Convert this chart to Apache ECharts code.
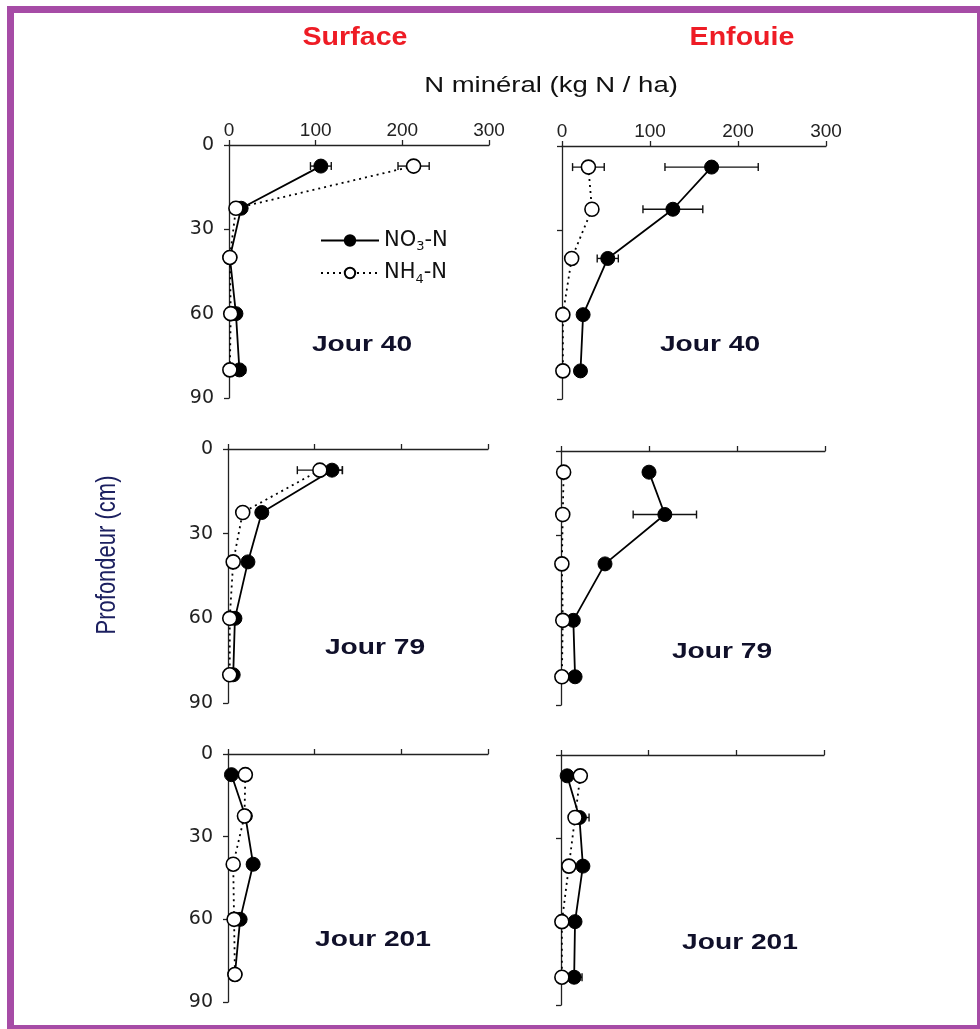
<!DOCTYPE html>
<html>
<head>
<meta charset="utf-8">
<script src="https://cdn.jsdelivr.net/npm/echarts@6/dist/echarts.min.js"></script>
<style>html,body{margin:0;padding:0;background:#fff}#c{width:980px;height:1029px}</style>
</head>
<body>
<div id="c"></div>
<script>
// ---- data ----
const depths = [7.5, 22.5, 40, 60, 80];
const xTicks = [0, 100, 200, 300];
const yTicks = [0, 30, 60, 90];
const columnTitles = ['Surface', 'Enfouie'];
const panelLabels = ['Jour 40', 'Jour 40', 'Jour 79', 'Jour 79', 'Jour 201', 'Jour 201'];
const seriesNames = ['NO3-N', 'NH4-N'];

// NO3-N values (kg N/ha) at each depth, per panel
const no3_surf40 = [106, 14, 1, 8, 12];
const no3_enf40  = [170, 126, 52, 24, 21];
const no3_surf79 = [120, 39, 23, 8, 6];
const no3_enf79  = [100, 118, 50, 14, 16];
const no3_surf201 = [4, 20, 29, 14, 8];
const no3_enf201  = [7, 21, 25, 16, 15];
// NH4-N values
const nh4_surf40 = [213, 8, 1, 2, 1];
const nh4_enf40  = [30, 34, 11, 1, 1];
const nh4_surf79 = [106, 17, 6, 2, 2];
const nh4_enf79  = [3, 2, 1, 2, 1];
const nh4_surf201 = [20, 19, 6, 7, 8];
const nh4_enf201  = [22, 16, 9, 1, 1];
// error bars (half-width, kg N/ha); 0 = none visible
const no3err_surf40 = [12, 0, 0, 0, 7];
const no3err_enf40  = [53, 34, 12, 0, 4];
const no3err_surf79 = [12, 0, 5, 0, 0];
const no3err_enf79  = [0, 36, 0, 0, 0];
const no3err_surf201 = [0, 0, 0, 0, 0];
const no3err_enf201  = [0, 11, 0, 0, 9];
const nh4err_surf40 = [18, 0, 0, 0, 0];
const nh4err_enf40  = [18, 0, 0, 0, 0];
const nh4err_surf79 = [26, 0, 0, 0, 0];
const nh4err_enf79  = [0, 0, 0, 0, 0];
const nh4err_surf201 = [0, 0, 0, 0, 0];
const nh4err_enf201  = [0, 0, 0, 0, 0];

const no3All = [no3_surf40, no3_enf40, no3_surf79, no3_enf79, no3_surf201, no3_enf201];
const nh4All = [nh4_surf40, nh4_enf40, nh4_surf79, nh4_enf79, nh4_surf201, nh4_enf201];
const no3ErrAll = [no3err_surf40, no3err_enf40, no3err_surf79, no3err_enf79, no3err_surf201, no3err_enf201];
const nh4ErrAll = [nh4err_surf40, nh4err_enf40, nh4err_surf79, nh4err_enf79, nh4err_surf201, nh4err_enf201];

// ---- layout ----
const grids = [
  {left: 229, top: 145, width: 260, height: 253},
  {left: 562, top: 146, width: 264, height: 253},
  {left: 228, top: 449, width: 260, height: 254},
  {left: 561, top: 451, width: 264, height: 254},
  {left: 228, top: 754, width: 260, height: 248},
  {left: 561, top: 755, width: 263, height: 250}
];
const labelPos = [[362, 345], [710, 345], [375, 648], [722, 652], [373, 940], [740, 943]];

const axisCol = '#222';
const xAxes = [], yAxes = [], series = [];
grids.forEach((g, i) => {
  const topRow = i < 2, leftCol = i % 2 === 0;
  xAxes.push({
    type: 'value', gridIndex: i, position: 'top', min: xTicks[0], max: xTicks[xTicks.length - 1], interval: 100,
    axisLine: {show: true, onZero: false, lineStyle: {color: axisCol, width: 1.3}},
    axisTick: {show: true, length: 5, lineStyle: {color: axisCol, width: 1.3}},
    axisLabel: {show: topRow, margin: 5, fontSize: 19, color: '#222', fontFamily: 'Liberation Sans'},
    splitLine: {show: false}
  });
  yAxes.push({
    type: 'value', gridIndex: i, inverse: true, min: yTicks[0], max: yTicks[yTicks.length - 1], interval: 30,
    axisLine: {show: true, onZero: false, lineStyle: {color: axisCol, width: 1.3}},
    axisTick: {show: true, length: 5, lineStyle: {color: axisCol, width: 1.3}},
    axisLabel: {show: leftCol, margin: 15, fontSize: 19, color: '#222', fontFamily: 'DejaVu Sans'},
    splitLine: {show: false}
  });
  const errData = [];
  depths.forEach((d, k) => {
    if (no3ErrAll[i][k] > 0) errData.push([no3All[i][k], d, no3ErrAll[i][k]]);
    if (nh4ErrAll[i][k] > 0) errData.push([nh4All[i][k], d, nh4ErrAll[i][k]]);
  });
  series.push({
    type: 'custom', xAxisIndex: i, yAxisIndex: i, z: 1, silent: true,
    data: errData,
    renderItem: function (params, api) {
      const x = api.value(0), y = api.value(1), e = api.value(2);
      const p1 = api.coord([x - e, y]), p2 = api.coord([x + e, y]);
      const h = 4, st = {stroke: '#111', lineWidth: 1.4};
      return {type: 'group', children: [
        {type: 'line', shape: {x1: p1[0], y1: p1[1], x2: p2[0], y2: p2[1]}, style: st},
        {type: 'line', shape: {x1: p1[0], y1: p1[1] - h, x2: p1[0], y2: p1[1] + h}, style: st},
        {type: 'line', shape: {x1: p2[0], y1: p2[1] - h, x2: p2[0], y2: p2[1] + h}, style: st}
      ]};
    }
  });
  series.push({
    name: seriesNames[0], type: 'line', xAxisIndex: i, yAxisIndex: i, z: 2,
    data: depths.map((d, k) => [no3All[i][k], d]),
    symbol: 'circle', symbolSize: 14, showSymbol: true,
    lineStyle: {color: '#000', width: 1.8, type: 'solid'},
    itemStyle: {color: '#000', borderColor: '#000', borderWidth: 1}
  });
  series.push({
    name: seriesNames[1], type: 'line', xAxisIndex: i, yAxisIndex: i, z: 3,
    data: depths.map((d, k) => [nh4All[i][k], d]),
    symbol: 'circle', symbolSize: 14, showSymbol: true,
    lineStyle: {color: '#000', width: 1.8, type: [2, 4]},
    itemStyle: {color: '#fff', borderColor: '#000', borderWidth: 1.6}
  });
});

const graphic = [
  {type: 'rect', shape: {x: 10.5, y: 9.5, width: 970, height: 1019}, style: {fill: 'none', stroke: '#a64ca6', lineWidth: 7}, z: 100},
  {type: 'text', x: 355, y: 38, scaleX: 1.1, style: {text: columnTitles[0], fill: '#ee1c25', font: 'bold 26px "Liberation Sans", Arial, sans-serif', align: 'center', verticalAlign: 'middle'}},
  {type: 'text', x: 742, y: 38, scaleX: 1.1, style: {text: columnTitles[1], fill: '#ee1c25', font: 'bold 26px "Liberation Sans", Arial, sans-serif', align: 'center', verticalAlign: 'middle'}},
  {type: 'text', x: 551, y: 86, scaleX: 1.25, style: {text: 'N minéral (kg N / ha)', fill: '#111', font: '22px "Liberation Sans", Arial, sans-serif', align: 'center', verticalAlign: 'middle'}},
  {type: 'text', x: 107, y: 555, rotation: Math.PI / 2, scaleY: 1.28, style: {text: 'Profondeur (cm)', fill: '#1c2060', font: '22px "Liberation Sans", Arial, sans-serif', align: 'center', verticalAlign: 'middle'}}
];
panelLabels.forEach((t, i) => {
  graphic.push({type: 'text', x: labelPos[i][0], y: labelPos[i][1], scaleX: 1.28,
    style: {text: t, fill: '#10102a', font: 'bold 22px "Liberation Sans", Arial, sans-serif', align: 'center', verticalAlign: 'middle'}});
});

const chart = echarts.init(document.getElementById('c'), null, {renderer: 'canvas'});
chart.setOption({
  backgroundColor: '#fff',
  animation: false,
  grid: grids.map(g => Object.assign({containLabel: false}, g)),
  xAxis: xAxes,
  yAxis: yAxes,
  legend: {
    data: seriesNames, orient: 'vertical', left: 315, top: 225,
    itemWidth: 58, itemHeight: 13, itemGap: 9,
    formatter: function (n) { return n === 'NO3-N' ? '{n|NO}{s|3}{n|-N}' : '{n|NH}{s|4}{n|-N}'; },
    textStyle: {
      color: '#111', fontFamily: 'DejaVu Sans', fontSize: 21,
      rich: {
        n: {fontSize: 21, lineHeight: 26, fontFamily: 'DejaVu Sans', color: '#111'},
        s: {fontSize: 13, lineHeight: 12, verticalAlign: 'bottom', fontFamily: 'DejaVu Sans', color: '#111'}
      }
    },
    selectedMode: false
  },
  graphic: graphic,
  series: series
});
</script>
</body>
</html>
